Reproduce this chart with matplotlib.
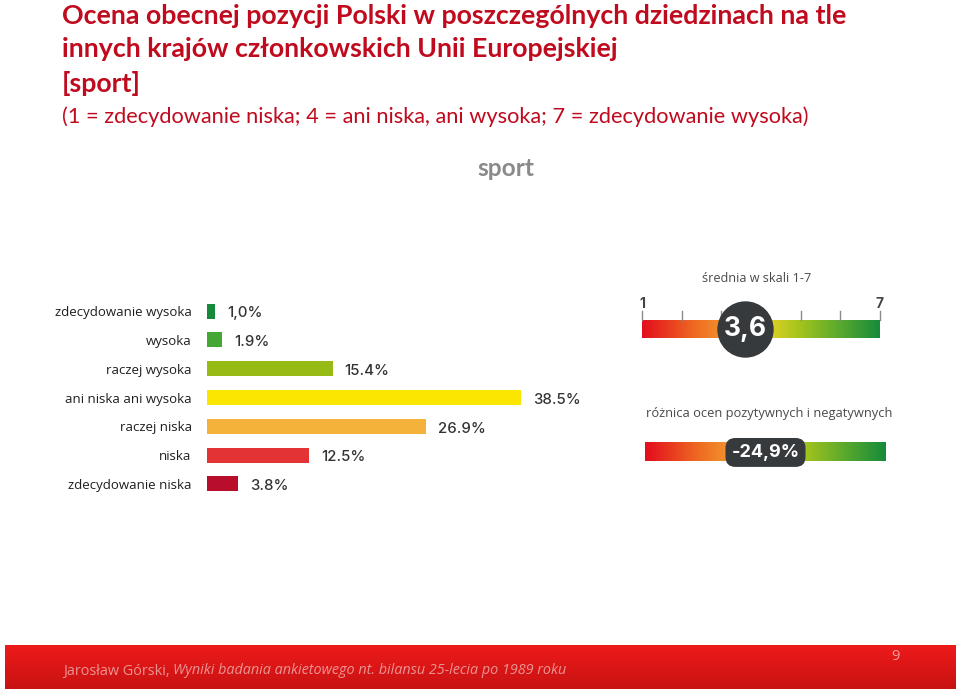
import numpy as np
import matplotlib
matplotlib.use("Agg")
import matplotlib.pyplot as plt
from matplotlib.colors import LinearSegmentedColormap

# ---------------- data ----------------
categories = ["zdecydowanie wysoka", "wysoka", "raczej wysoka", "ani niska ani wysoka",
              "raczej niska", "niska", "zdecydowanie niska"]
values = [1.0, 1.9, 15.4, 38.5, 26.9, 12.5, 3.8]
value_labels = ["1,0%", "1.9%", "15.4%", "38.5%", "26.9%", "12.5%", "3.8%"]
bar_colors = ["#17893a", "#44a734", "#97bb15", "#fae600", "#f5b23a", "#e43334", "#b90e2b"]
mean_score = 3.6
scale_ticks = [1, 2, 3, 4, 5, 6, 7]
diff_pos_neg = -24.9

title_lines = ["Ocena obecnej pozycji Polski w poszczególnych dziedzinach na tle",
               "innych krajów członkowskich Unii Europejskiej",
               "[sport]"]
subtitle = "(1 = zdecydowanie niska; 4 = ani niska, ani wysoka; 7 = zdecydowanie wysoka)"
chart_title = "sport"
gauge1_title = "średnia w skali 1-7"
gauge2_title = "różnica ocen pozytywnych i negatywnych"
footer_regular = "Jarosław Górski, "
footer_italic = "Wyniki badania ankietowego nt. bilansu 25-lecia po 1989 roku"
page_no = "9"

W, H = 960, 691
fig = plt.figure(figsize=(W / 100, H / 100), dpi=100)
fig.patch.set_facecolor("white")
renderer = fig.canvas.get_renderer()

def fx(x):
    return x / W

def fy(y):
    return 1 - y / H

def fit_text(x, y, s, target_w, **kw):
    t = fig.text(fx(x), fy(y), s, **kw)
    fs = t.get_fontsize()
    w = t.get_window_extent(renderer).width
    t.set_fontsize(fs * target_w / w)
    return t

RED = "#c00a1e"
# ---- titles ----
t1 = fit_text(62, 16, title_lines[0], 786, family="Lato", weight="bold", color=RED,
              va="center", ha="left", fontsize=20)
tfs = t1.get_fontsize()
fig.text(fx(62), fy(49), title_lines[1], family="Lato", weight="bold", color=RED,
         va="center", ha="left", fontsize=tfs)
fig.text(fx(62), fy(83), title_lines[2], family="Lato", weight="bold", color=RED,
         va="center", ha="left", fontsize=tfs)
fit_text(62, 117, subtitle, 749, family="Lato", color=RED, va="center", ha="left", fontsize=16)
fit_text(506, 168, chart_title, 57, family="Lato", weight="bold", color="#8a8a8a",
         va="center", ha="center", fontsize=14)

# ---- bar chart ----
px_per_pct = (521 - 207) / 38.5
ax_w = 400
top, bot = 296.6, 498.4
ax = fig.add_axes([fx(207), fy(bot), fx(ax_w), (bot - top) / H])
y = np.arange(len(categories))
ax.barh(y, values, height=0.52, color=bar_colors, zorder=2)
ax.set_xlim(0, ax_w / px_per_pct)
ax.set_ylim(len(categories) - 0.5, -0.5)
ax.set_yticks(y)
ax.set_yticklabels(categories, family="Open Sans", fontsize=9.5, color="#1e1e1e")
ax.tick_params(axis="y", length=0, pad=11)
ax.set_xticks([])
for s in ax.spines.values():
    s.set_visible(False)
ax.patch.set_alpha(0)
for yi, v, lab in zip(y, values, value_labels):
    ax.text(v + 12 / px_per_pct, yi + 0.08, lab, va="center", ha="left",
            family="Inter", fontsize=10.8, color="#333333", weight="medium")

# ---- gradient colormap ----
gcmap = LinearSegmentedColormap.from_list("g", [
    (0.0, "#e30d1d"), (0.22, "#ee6a22"), (0.40, "#f5a532"),
    (0.55, "#d9cf25"), (0.66, "#a5c41c"), (0.82, "#5eab2c"), (1.0, "#168b3b")])
grad = np.linspace(0, 1, 256)[None, :]

# ---- gauge 1 ----
g1 = fig.add_axes([fx(642), fy(338), fx(880 - 642), 18 / H])
g1.imshow(grad, cmap=gcmap, aspect="auto", extent=(scale_ticks[0], scale_ticks[-1], 0, 1),
          interpolation="bicubic")
g1.set_xlim(scale_ticks[0], scale_ticks[-1])
g1.set_ylim(0, 1)
g1.axis("off")
for tk in scale_ticks:
    g1.plot([tk, tk], [1, 1 + 9 / 18], color="#8a8a8a", lw=1, clip_on=False)
for tk in (scale_ticks[0], scale_ticks[-1]):
    g1.text(tk, 1 + 16 / 18, str(tk), ha="center", va="center", family="Inter",
            fontsize=10, weight="bold", color="#444444", clip_on=False)
g1.scatter([mean_score], [0.5], s=(55 * 0.72) ** 2, color="#363a3d", zorder=5, clip_on=False)
g1.text(mean_score, 0.5, f"{mean_score:.1f}".replace(".", ","), ha="center", va="center",
        color="white", family="Inter", fontsize=19, weight="bold", zorder=6)
fit_text(757, 279, gauge1_title, 109, family="Open Sans", color="#4a4a4a",
         ha="center", va="center", fontsize=9.5)

# ---- gauge 2 ----
g2 = fig.add_axes([fx(645), fy(461), fx(886 - 645), 19 / H])
g2.imshow(grad, cmap=gcmap, aspect="auto", extent=(0, 1, 0, 1), interpolation="bicubic")
g2.set_xlim(0, 1)
g2.set_ylim(0, 1)
g2.axis("off")
g2.text(0.5, 0.45, f"{diff_pos_neg:.1f}%".replace(".", ","), ha="center", va="center",
        color="white", family="Inter", fontsize=13, weight="bold", zorder=6,
        bbox=dict(boxstyle="round,pad=0.33,rounding_size=0.55", fc="#363a3d", ec="none"))
fit_text(769, 414, gauge2_title, 248, family="Open Sans", color="#4a4a4a",
         ha="center", va="center", fontsize=9.5)

# ---- footer ----
fa = fig.add_axes([fx(5), fy(689), fx(950), 44 / H])
fgrad = LinearSegmentedColormap.from_list("f", ["#ee1a1a", "#c81212"])
fa.imshow(np.linspace(0, 1, 64)[:, None], cmap=fgrad, aspect="auto", extent=(0, 1, 0, 1))
fa.axis("off")
ft1 = fig.text(fx(63), fy(671), footer_regular, family="Open Sans", fontsize=10.4,
               color="#ec9494", va="center", ha="left")
w1 = ft1.get_window_extent(renderer).width
fig.text(fx(63 + w1), fy(671), footer_italic, family="Open Sans", style="italic",
         fontsize=10.4, color="#ec9494", va="center", ha="left")
fig.text(fx(895), fy(657), page_no, family="Open Sans", fontsize=10.5,
         color="#f3a0a0", va="center", ha="center")

fig.savefig("out.png", dpi=100, facecolor="white")
